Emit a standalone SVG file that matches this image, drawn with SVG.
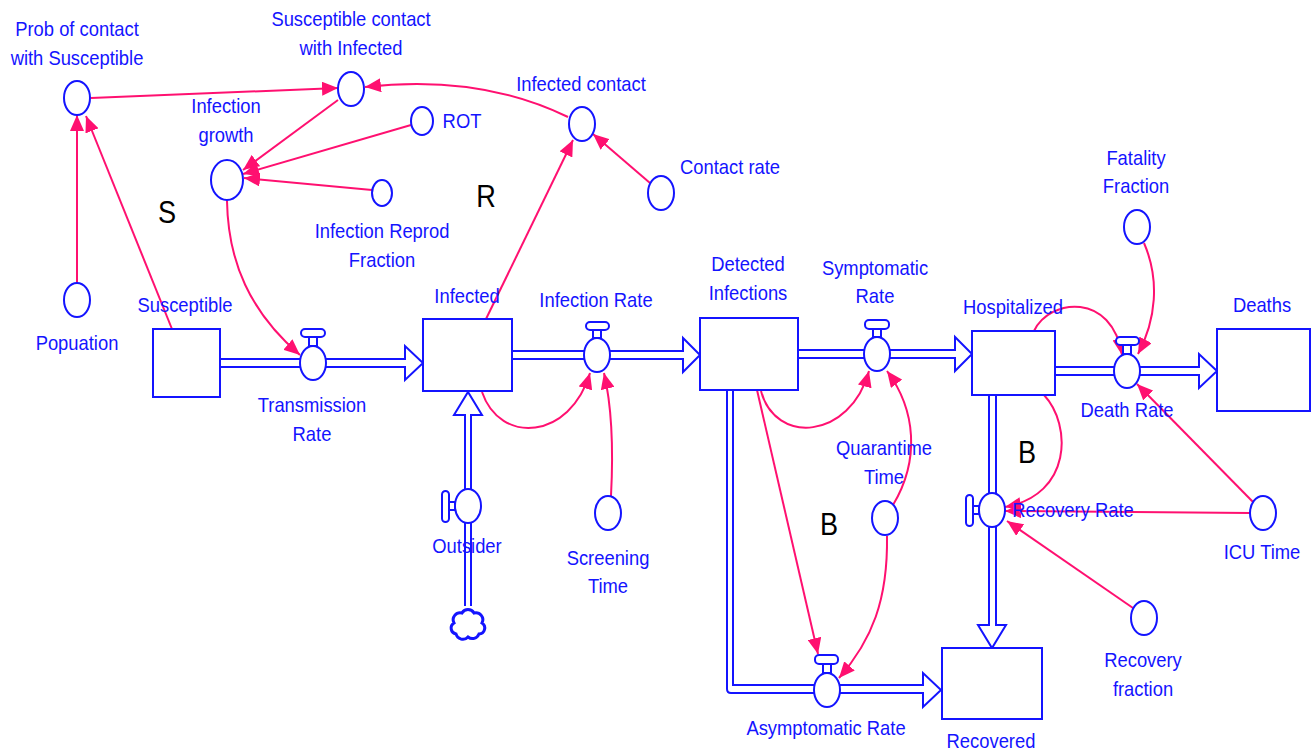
<svg xmlns="http://www.w3.org/2000/svg" width="1316" height="755" viewBox="0 0 1316 755">
<style>
.stock{fill:#fff;stroke:#1414ff;stroke-width:2}
.pipe{fill:#fff;stroke:#1414ff;stroke-width:2;stroke-linejoin:miter}
.valve{fill:#fff;stroke:#1414ff;stroke-width:2}
.aux{fill:#fff;stroke:#1414ff;stroke-width:2}
.lbl{font-family:"Liberation Sans",Arial,sans-serif;font-size:21px;fill:#1414ff;text-anchor:middle}
.loop{font-family:"Liberation Sans",Arial,sans-serif;font-size:31px;fill:#000;text-anchor:middle}
.link{fill:none;stroke:#ff1070;stroke-width:2;marker-end:url(#ah)}
</style>
<defs>
<marker id="ah" markerUnits="userSpaceOnUse" markerWidth="18" markerHeight="14" refX="16" refY="7" orient="auto"><path d="M0,0 L16,7 L0,14 z" fill="#ff1070"/></marker>
</defs>
<rect width="1316" height="755" fill="#fff"/>

<g id="flows">
<path class="pipe" d="M220,359 H405 V346 L423,363 L405,380 V367 H220"/>
<path class="pipe" d="M512,351 H683 V338 L700,355 L683,372 V359 H512"/>
<path class="pipe" d="M798,350 H955 V337 L972,354 L955,371 V358 H798"/>
<path class="pipe" d="M1055,367 H1199 V354 L1217,371 L1199,388 V375 H1055"/>
<path class="pipe" d="M989,395 V625 H978 L992,648 L1006,625 H996 V395"/>
<path class="pipe" d="M465,606 V415 H454 L468,392 L482,415 H471 V606"/>
<path class="pipe" d="M727,390 V689 Q727,693 731,693 H923 V707 L941,690 L923,673 V685 H733 V390"/>
<path id="cloud" d="M456,634 a6,6 0 0 1 -2,-11 a7,7 0 0 1 8,-10 a7,7 0 0 1 12,0 a7,7 0 0 1 8,10 a6,6 0 0 1 -3,11 a7,7 0 0 1 -11,3 a7,7 0 0 1 -12,-3 z" fill="#fff" stroke="#1414ff" stroke-width="3"/>
</g>

<g id="connectors">
<path class="link" d="M91,98 L338,88"/>
<path class="link" d="M338,100 L243,170"/>
<path class="link" d="M411,125 L243,174"/>
<path class="link" d="M372,190 L244,178"/>
<path class="link" d="M568,117 Q480,74 365,87"/>
<path class="link" d="M650,183 L593,134"/>
<path class="link" d="M486,319 L573,140"/>
<path class="link" d="M77,284 L77,115"/>
<path class="link" d="M172,329 L86,116"/>
<path class="link" d="M227,201 C228,262 250,312 300,355"/>
<path class="link" d="M482,392 C500,445 570,440 590,373"/>
<path class="link" d="M611,496 Q615,420 604,373"/>
<path class="link" d="M761,391 C775,445 850,440 869,371"/>
<path class="link" d="M893,505 C920,460 916,410 887,371"/>
<path class="link" d="M887,536 C888,600 872,640 839,678"/>
<path class="link" d="M757,390 L818,654"/>
<path class="link" d="M1034,331 C1050,298 1112,292 1122,355"/>
<path class="link" d="M1144,243 C1160,280 1156,320 1138,354"/>
<path class="link" d="M1253,502 L1137,384"/>
<path class="link" d="M1250,513 L1005,511"/>
<path class="link" d="M1044,395 C1072,425 1072,495 1005,507"/>
<path class="link" d="M1133,608 L1007,521"/>
</g>

<g id="Susceptible"><rect class="stock" x="153" y="329" width="67" height="68"/><text class="lbl" transform="translate(185 312) scale(0.875 1)">Susceptible</text></g>
<g id="Infected"><rect class="stock" x="423" y="319" width="89" height="72"/><text class="lbl" transform="translate(467 303) scale(0.875 1)">Infected</text></g>
<g id="DetectedInfections"><rect class="stock" x="700" y="318" width="98" height="72"/><text class="lbl" transform="translate(748 271) scale(0.875 1)">Detected<tspan x="0" dy="29">Infections</tspan></text></g>
<g id="Hospitalized"><rect class="stock" x="972" y="331" width="83" height="64"/><text class="lbl" transform="translate(1013 314) scale(0.875 1)">Hospitalized</text></g>
<g id="Deaths"><rect class="stock" x="1217" y="329" width="93" height="82"/><text class="lbl" transform="translate(1262 312) scale(0.875 1)">Deaths</text></g>
<g id="Recovered"><rect class="stock" x="942" y="648" width="100" height="71"/><text class="lbl" transform="translate(991 748) scale(0.875 1)">Recovered</text></g>

<g id="TransmissionRate"><rect class="valve" x="301" y="329" width="24" height="8" rx="4"/><rect class="valve" x="309" y="337" width="8" height="9"/><ellipse class="valve" cx="313" cy="363" rx="13" ry="17"/><text class="lbl" transform="translate(312 412) scale(0.875 1)">Transmission<tspan x="0" dy="29">Rate</tspan></text></g>
<g id="InfectionRate"><rect class="valve" x="586" y="322" width="23" height="8" rx="4"/><rect class="valve" x="593" y="330" width="8" height="8"/><ellipse class="valve" cx="597" cy="355" rx="13" ry="17"/><text class="lbl" transform="translate(596 307) scale(0.875 1)">Infection Rate</text></g>
<g id="SymptomaticRate"><rect class="valve" x="865" y="320" width="24" height="9" rx="4"/><rect class="valve" x="873" y="329" width="8" height="8"/><ellipse class="valve" cx="877" cy="354" rx="13" ry="17"/><text class="lbl" transform="translate(875 275) scale(0.875 1)">Symptomatic<tspan x="0" dy="28">Rate</tspan></text></g>
<g id="DeathRate"><rect class="valve" x="1116" y="337" width="23" height="8" rx="4"/><rect class="valve" x="1123" y="345" width="8" height="9"/><ellipse class="valve" cx="1127" cy="371" rx="13" ry="17"/><text class="lbl" transform="translate(1127 417) scale(0.875 1)">Death Rate</text></g>
<g id="AsymptomaticRate"><rect class="valve" x="815" y="655" width="23" height="9" rx="4"/><rect class="valve" x="823" y="664" width="8" height="9"/><ellipse class="valve" cx="827" cy="690" rx="13" ry="17"/><text class="lbl" transform="translate(826 735) scale(0.875 1)">Asymptomatic Rate</text></g>
<g id="RecoveryRate"><rect class="valve" x="966" y="495" width="7" height="31" rx="3.5"/><rect class="valve" x="973" y="506" width="6" height="8"/><ellipse class="valve" cx="992" cy="510" rx="13" ry="17"/><text class="lbl" transform="translate(1073 517) scale(0.875 1)">Recovery Rate</text></g>
<g id="Outsider"><rect class="valve" x="442" y="491" width="7" height="31" rx="3.5"/><rect class="valve" x="449" y="502" width="6" height="8"/><ellipse class="valve" cx="468" cy="506" rx="13" ry="17"/><text class="lbl" transform="translate(467 553) scale(0.875 1)">Outsider</text></g>

<g id="ProbContact"><ellipse class="aux" cx="77" cy="98" rx="13" ry="17"/><text class="lbl" transform="translate(77 36) scale(0.875 1)">Prob of contact<tspan x="0" dy="29">with Susceptible</tspan></text></g>
<g id="SusceptibleContact"><ellipse class="aux" cx="351" cy="89" rx="13" ry="17"/><text class="lbl" transform="translate(351 26) scale(0.875 1)">Susceptible contact<tspan x="0" dy="29">with Infected</tspan></text></g>
<g id="InfectionGrowth"><ellipse class="aux" cx="227" cy="180" rx="16" ry="20"/><text class="lbl" transform="translate(226 113) scale(0.875 1)">Infection<tspan x="0" dy="29">growth</tspan></text></g>
<g id="ROT"><ellipse class="aux" cx="422" cy="121" rx="11" ry="14"/><text class="lbl" transform="translate(462 128) scale(0.875 1)">ROT</text></g>
<g id="InfectionReprodFraction"><ellipse class="aux" cx="382" cy="193" rx="10" ry="13"/><text class="lbl" transform="translate(382 238) scale(0.875 1)">Infection Reprod<tspan x="0" dy="29">Fraction</tspan></text></g>
<g id="InfectedContact"><ellipse class="aux" cx="582" cy="124" rx="13" ry="17"/><text class="lbl" transform="translate(581 91) scale(0.875 1)">Infected contact</text></g>
<g id="ContactRate"><ellipse class="aux" cx="661" cy="193" rx="13" ry="17"/><text class="lbl" transform="translate(730 174) scale(0.875 1)">Contact rate</text></g>
<g id="Popuation"><ellipse class="aux" cx="77" cy="300" rx="13" ry="17"/><text class="lbl" transform="translate(77 350) scale(0.875 1)">Popuation</text></g>
<g id="ScreeningTime"><ellipse class="aux" cx="608" cy="513" rx="13" ry="17"/><text class="lbl" transform="translate(608 565) scale(0.875 1)">Screening<tspan x="0" dy="28">Time</tspan></text></g>
<g id="QuarantimeTime"><ellipse class="aux" cx="885" cy="518" rx="13" ry="17"/><text class="lbl" transform="translate(884 455) scale(0.875 1)">Quarantime<tspan x="0" dy="29">Time</tspan></text></g>
<g id="FatalityFraction"><ellipse class="aux" cx="1137" cy="227" rx="13" ry="17"/><text class="lbl" transform="translate(1136 165) scale(0.875 1)">Fatality<tspan x="0" dy="28">Fraction</tspan></text></g>
<g id="ICUTime"><ellipse class="aux" cx="1263" cy="513" rx="13" ry="17"/><text class="lbl" transform="translate(1262 559) scale(0.875 1)">ICU Time</text></g>
<g id="RecoveryFraction"><ellipse class="aux" cx="1144" cy="618" rx="13" ry="17"/><text class="lbl" transform="translate(1143 667) scale(0.875 1)">Recovery<tspan x="0" dy="29">fraction</tspan></text></g>

<g id="loops">
<text class="loop" transform="translate(167 223) scale(0.875 1)">S</text>
<text class="loop" transform="translate(486 207) scale(0.875 1)">R</text>
<text class="loop" transform="translate(829 535) scale(0.875 1)">B</text>
<text class="loop" transform="translate(1027 463) scale(0.875 1)">B</text>
</g>
</svg>
